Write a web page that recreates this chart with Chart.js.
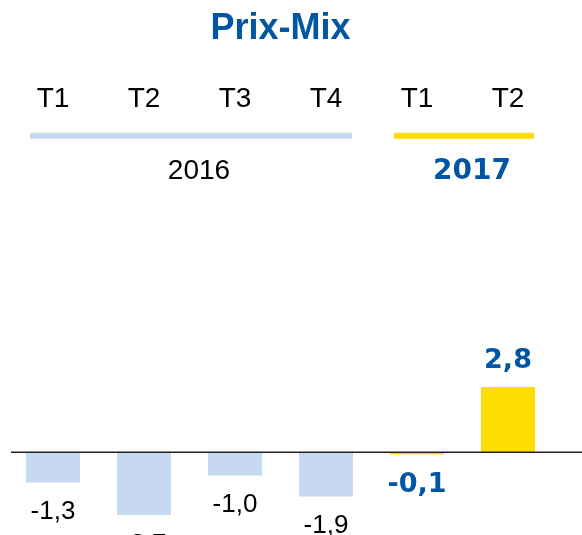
<!DOCTYPE html>
<html>
<head>
<meta charset="utf-8">
<script src="https://cdn.jsdelivr.net/npm/chart.js@4/dist/chart.umd.min.js"></script>
<style>
	body{margin:0;background:#fff;}
	#wrap{width:582px;height:535px;position:relative;}
</style>
</head>
<body>
<div id="wrap"><canvas id="chart"></canvas></div>
<script>
var quarters=['T1','T2','T3','T4','T1','T2'];
var years=['2016','2016','2016','2016','2017','2017'];
var prixMix=[-1.3,-2.7,-1.0,-1.9,-0.1,2.8];

var BLUE='#0056A3';
var LIGHT='#C6D9F0';
var YELLOW='#FFDD00';

function isNew(i){
	return years[i]=='2017';
}
function barColors(){
	var c=[];
	for(var i=0;i<prixMix.length;i++){
		c.push(isNew(i)?YELLOW:LIGHT);
	}
	return c;
}
function fmt(v){
	return v.toFixed(1).replace('.',',');
}

var decorations={
	id:'decorations',
	afterDatasetsDraw:function(chart){
		var ctx=chart.ctx;
		var y=chart.scales.y;
		var bars=chart.getDatasetMeta(0).data;
		var zero=y.getPixelForValue(0);
		ctx.save();
		//zero line
		ctx.strokeStyle='#222';
		ctx.lineWidth=1.5;
		ctx.beginPath();
		ctx.moveTo(11,zero);
		ctx.lineTo(chart.width,zero);
		ctx.stroke();
		//value labels
		ctx.textAlign='center';
		ctx.textBaseline='alphabetic';
		for(var i=0;i<bars.length;i++){
			var b=bars[i];
			var v=prixMix[i];
			if(isNew(i)){
				ctx.font='bold 27px "DejaVu Sans"';
				ctx.fillStyle=BLUE;
			}else{
				ctx.font='26px "Liberation Sans", Arial';
				ctx.fillStyle='#000';
			}
			if(v<0){
				var end=Math.max(b.y,b.base+2);
				ctx.fillText(fmt(v),b.x,end+18+19);
			}else{
				ctx.fillText(fmt(v),b.x,b.y-19);
			}
		}
		//year groups
		var groups=[];
		for(var j=0;j<years.length;j++){
			var last=groups[groups.length-1];
			if(last&&last.name==years[j]){
				last.end=j;
			}else{
				groups.push({name:years[j],start:j,end:j});
			}
		}
		var lineY=chart.chartArea.top+10;
		for(var k=0;k<groups.length;k++){
			var g=groups[k];
			var b0=bars[g.start], b1=bars[g.end];
			var x0=b0.x-b0.width/2+4;
			var x1=b1.x+b1.width/2-1;
			var hot=isNew(g.start);
			ctx.fillStyle=hot?YELLOW:LIGHT;
			ctx.fillRect(x0,lineY-3,x1-x0,6);
			if(hot){
				ctx.font='bold 28px "DejaVu Sans"';
				ctx.fillStyle=BLUE;
			}else{
				ctx.font='28px "Liberation Sans", Arial';
				ctx.fillStyle='#000';
			}
			ctx.fillText(g.name,(x0+x1)/2+8,lineY+43);
		}
		ctx.restore();
	}
};

var ctx=document.getElementById('chart');
var mc=new Chart(ctx,{
	type:'bar',
	data:{
		labels:quarters,
		datasets:[{
			label:'Prix-Mix',
			data:prixMix,
			backgroundColor:barColors(),
			borderWidth:0,
			categoryPercentage:1,
			barPercentage:0.593
		}]
	},
	options:{
		responsive:true,
		maintainAspectRatio:false,
		animation:false,
		layout:{padding:{top:7,left:7.5,right:28.5,bottom:0}},
		plugins:{
			legend:{display:false},
			tooltip:{enabled:false},
			title:{
				display:true,
				text:'Prix-Mix',
				color:BLUE,
				font:{family:'"Liberation Sans", Arial',size:36,weight:'bold'},
				padding:{top:0,bottom:22}
			}
		},
		scales:{
			x:{
				position:'top',
				grid:{display:false,drawTicks:false},
				border:{display:false},
				ticks:{
					color:'#000',
					padding:10,
					maxRotation:0,
					autoSkip:false,
					font:{family:'"Liberation Sans", Arial',size:28}
				}
			},
			y:{
				display:false,
				min:-3.56,
				max:14.03
			}
		}
	},
	plugins:[decorations]
});
</script>
</body>
</html>
